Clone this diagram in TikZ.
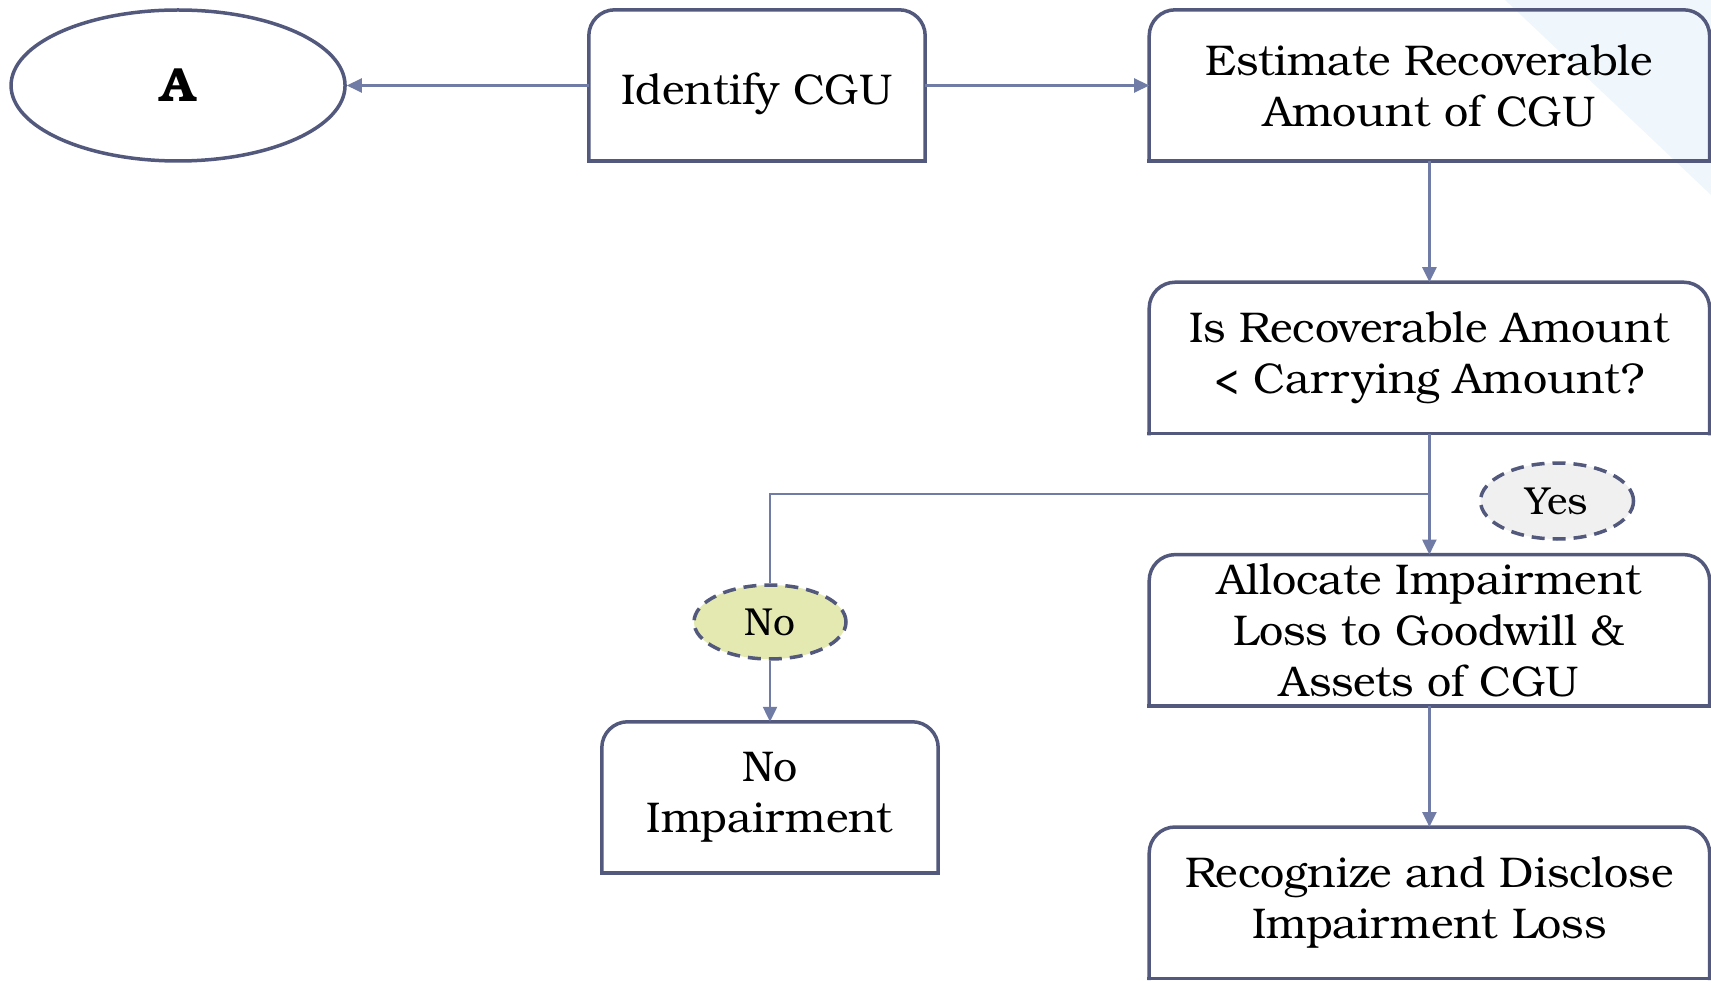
\documentclass[tikz,border=0pt]{standalone}
\usepackage{fontspec}
\setmainfont{TeX Gyre Bonum}
\usetikzlibrary{shapes.geometric, arrows.meta, positioning, calc}
\definecolor{boxline}{RGB}{82,89,124}
\definecolor{linkline}{RGB}{112,124,166}
\definecolor{nofill}{RGB}{228,233,178}
\definecolor{yesfill}{RGB}{240,240,240}
\definecolor{cornerblue}{RGB}{240,247,252}

\begin{document}
\begin{tikzpicture}[
  x=1pt,y=-1pt,
  font=\fontsize{43}{51}\selectfont,
  block/.style={inner sep=0pt,align=center,minimum width=336pt,minimum height=151pt,
    execute at begin node={\rule{0pt}{1.14em}}},
  wideblock/.style={block,minimum width=560pt},
  outline/.style={draw=boxline,line width=3.5pt,line cap=rect},
  terminal/.style={draw=boxline,line width=3.5pt,ellipse,inner sep=0pt,minimum width=334pt,minimum height=151pt},
  answer/.style={draw=boxline,line width=3.5pt,dash pattern=on 13pt off 8pt,ellipse,inner sep=0pt,font=\fontsize{39}{46}\selectfont},
  arrow/.style={draw=linkline,line width=2.5pt,-{Triangle[length=15pt,width=14pt]}},
  link/.style={draw=linkline,line width=2.5pt}
]
  \useasboundingbox (0,0) rectangle (1711,981);
  \fill[cornerblue] (1505,0) -- (1711,0) -- (1711,195) -- cycle;

  \node[block] (id) at (757,85.5) {Identify CGU};
  \node[terminal,left=242pt of id] (a) {\fontsize{48}{54}\selectfont\bfseries A};
  \node[wideblock,right=224pt of id] (est) {Estimate Recoverable\\Amount of CGU};
  \node[wideblock,below=121pt of est] (isrec) {Is Recoverable Amount\\< Carrying Amount?};
  \node[wideblock,below=121pt of isrec] (alloc) {Allocate Impairment\\Loss to Goodwill \&\\Assets of CGU};
  \node[wideblock,below=121pt of alloc] (recog) {Recognize and Disclose\\Impairment Loss};
  \node[answer,fill=nofill,minimum width=152pt,minimum height=74pt] (no) at (770,622) {No};
  \node[block,below=61pt of no] (noimp) {No\\Impairment};
  \node[answer,fill=yesfill,minimum width=153pt,minimum height=76pt] (yes) at (1557,501) {Yes};
  \coordinate (split) at ($(isrec.south)!0.5!(alloc.north)$);

  % boxes: round top, square bottom
  \foreach \n in {id,est,isrec,alloc,recog,noimp}{
    \draw[outline,rounded corners=26pt] (\n.south west) -- (\n.north west) -- (\n.north east) -- (\n.south east);
    \draw[outline] (\n.south west) -- (\n.south east);
  }

  \draw[arrow] (id) -- (a);
  \draw[arrow] (id) -- (est);
  \draw[arrow] (est) -- (isrec);
  \draw[arrow] (isrec) -- (alloc);
  \draw[link] (split) -| (no.north);
  \draw[arrow] (no) -- (noimp);
  \draw[arrow] (alloc) -- (recog);
\end{tikzpicture}
\end{document}
